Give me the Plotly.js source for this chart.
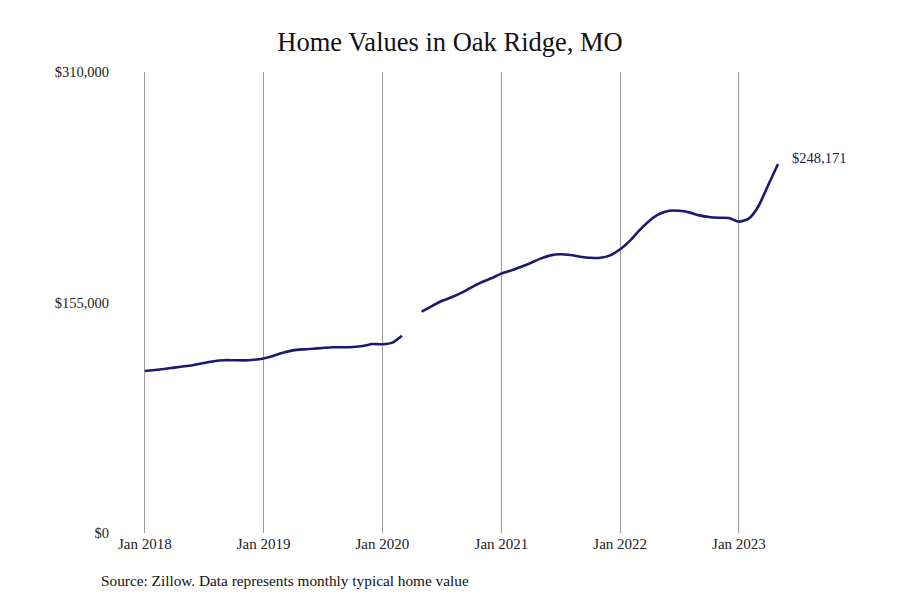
<!DOCTYPE html>
<html>
<head>
<meta charset="utf-8">
<script src="https://cdn.plot.ly/plotly-3.0.1.min.js"></script>
<style>
  body { margin: 0; background: #fff; }
  #chart { width: 900px; height: 600px; }
</style>
</head>
<body>
<div id="chart"></div>
<script>
// monthly typical home value, Jan 2018 - May 2023 (Apr 2020 missing)
const months = [
  '2018-01-01','2018-02-01','2018-03-01','2018-04-01','2018-05-01','2018-06-01',
  '2018-07-01','2018-08-01','2018-09-01','2018-10-01','2018-11-01','2018-12-01',
  '2019-01-01','2019-02-01','2019-03-01','2019-04-01','2019-05-01','2019-06-01',
  '2019-07-01','2019-08-01','2019-09-01','2019-10-01','2019-11-01','2019-12-01',
  '2020-01-01','2020-02-01','2020-03-01','2020-04-01','2020-05-01','2020-06-01',
  '2020-07-01','2020-08-01','2020-09-01','2020-10-01','2020-11-01','2020-12-01',
  '2021-01-01','2021-02-01','2021-03-01','2021-04-01','2021-05-01','2021-06-01',
  '2021-07-01','2021-08-01','2021-09-01','2021-10-01','2021-11-01','2021-12-01',
  '2022-01-01','2022-02-01','2022-03-01','2022-04-01','2022-05-01','2022-06-01',
  '2022-07-01','2022-08-01','2022-09-01','2022-10-01','2022-11-01','2022-12-01',
  '2023-01-01','2023-02-01','2023-03-01','2023-04-01','2023-05-01'
];
const homeValues = [
  108900, 109600, 110300, 111200, 112100, 113000,
  114300, 115500, 116200, 116200, 116100, 116500,
  117400, 119200, 121200, 122800, 123500, 123900,
  124400, 124900, 124900, 125100, 125700, 127100,
  126900, 128000, 132700, null,   148800, 152600,
  156000, 158500, 161600, 165200, 168600, 171300,
  174400, 176600, 178900, 181600, 184500, 186700,
  187400, 186900, 185800, 185100, 185100, 186700,
  190800, 196800, 203500, 210000, 214500, 216700,
  216700, 215600, 213600, 212500, 212000, 211800,
  209300, 211600, 219400, 234000, 248171
];
const yTickVals = [0, 155000, 310000];
const yTickText = ['$0', '$155,000', '$310,000'];
const xTickVals = ['2018-01-01','2019-01-01','2020-01-01','2021-01-01','2022-01-01','2023-01-01'];
const xTickText = ['Jan 2018','Jan 2019','Jan 2020','Jan 2021','Jan 2022','Jan 2023'];
const lastLabel = '$248,171';

const serif = 'Liberation Serif, Times New Roman, serif';
const navy = '#1b1a6e';

const trace = {
    x: months,
    y: homeValues,
    type: 'scatter',
    mode: 'lines',
    connectgaps: false,
    line: { color: navy, width: 2.6, shape: 'spline', smoothing: 0.6 },
    hoverinfo: 'skip'
};

const layout = {
    width: 900,
    height: 600,
    margin: { l: 110, r: 40, t: 72, b: 67 },
    paper_bgcolor: '#fff',
    plot_bgcolor: '#fff',
    showlegend: false,
    title: {
        text: 'Home Values in Oak Ridge, MO',
        font: { family: serif, size: 26.5, color: '#111' },
        x: 0.5, xanchor: 'center',
        y: 0.93, yanchor: 'middle'
    },
    xaxis: {
        type: 'date',
        range: ['2017-09-16', '2024-01-08'],
        tickvals: xTickVals,
        ticktext: xTickText,
        showgrid: true,
        gridcolor: '#9a9a9a',
        gridwidth: 1,
        zeroline: false,
        showline: false,
        ticks: '',
        tickfont: { family: serif, size: 15, color: '#222' },
        fixedrange: true
    },
    yaxis: {
        range: [0, 310000],
        tickvals: yTickVals,
        ticktext: yTickText,
        showgrid: false,
        zeroline: false,
        showline: false,
        ticks: '',
        tickfont: { family: serif, size: 14.5, color: '#222' },
        fixedrange: true
    },
    annotations: [
        {
            x: months[months.length - 1],
            y: homeValues[homeValues.length - 1],
            xref: 'x', yref: 'y',
            text: lastLabel,
            showarrow: false,
            xanchor: 'left',
            yanchor: 'middle',
            xshift: 12,
            yshift: 6,
            font: { family: serif, size: 14.5, color: '#1b1a4b' }
        },
        {
            x: 0, y: 0,
            xref: 'paper', yref: 'paper',
            text: 'Source: Zillow. Data represents monthly typical home value',
            showarrow: false,
            font: { family: serif, size: 15.3, color: '#111' }
        }
    ]
};

// place the source note in pixel terms: left at x=99, middle at y=580
const plotW = 900 - layout.margin.l - layout.margin.r;
const plotH = 600 - layout.margin.t - layout.margin.b;
layout.annotations[1].x = (99 - layout.margin.l) / plotW;
layout.annotations[1].y = (600 - layout.margin.b - 580) / plotH;
layout.annotations[1].xanchor = 'left';
layout.annotations[1].yanchor = 'middle';

Plotly.newPlot('chart', [trace], layout, { displayModeBar: false, staticPlot: true });
</script>
</body>
</html>
